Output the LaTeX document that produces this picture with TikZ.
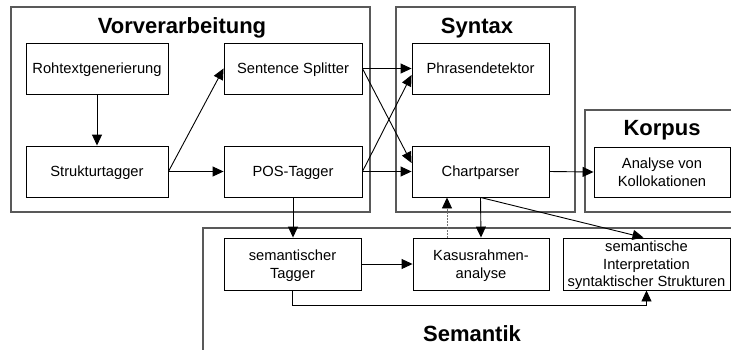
\documentclass[tikz,border=0pt]{standalone}
\usepackage{fontspec}
\setmainfont{Liberation Sans}
\usetikzlibrary{arrows.meta,calc}
\begin{document}
\begin{tikzpicture}[x=1pt,y=-1pt,
  box/.style={draw=black,line width=0.9pt,rectangle,inner sep=0pt,
    font=\fontsize{14.7}{17.5}\selectfont,align=center,text depth=0pt},
  one/.style={box,text height=10.5pt},
  two/.style={box,text height=28pt},
  three/.style={box,text height=45.5pt},
  frame/.style={draw=black!65,line width=1.3pt},
  title/.style={font=\fontsize{22}{26}\bfseries\selectfont,anchor=base,inner sep=0pt},
  arr/.style={draw=black,line width=0.9pt,-{Triangle[length=11pt,width=10pt]}},
  dotarr/.style={draw=black!55,line width=0.9pt,dash pattern=on 1.5pt off 1.5pt,
    -{Triangle[length=11pt,width=10pt,color=black]}}
]
\clip (0,0) rectangle (731,349);
\fill[white] (0,0) rectangle (731,349);

% frames
\draw[frame] (11,7) rectangle (370,212);
\draw[frame] (396,7) rectangle (575,212);
\draw[frame] (585,110) rectangle (760,212);
\draw[frame] (203,228) rectangle (760,380);

% titles
\node[title] (tvor) at (182,33) {Vorverarbeitung};
\node[title] (tsyn) at (477,33) {Syntax};
\node[title] (tkor) at (662,135) {Korpus};
\node[title] (tsem) at (472,341) {Semantik};

% boxes
\node[one,minimum width=142pt,minimum height=51pt] (roh) at (97,68.5) {Rohtextgenerierung};
\node[one,minimum width=142pt,minimum height=51pt] (struk) at (97,171.5) {Strukturtagger};
\node[one,minimum width=138pt,minimum height=51pt] (ss) at (293,68.5) {Sentence Splitter};
\node[one,minimum width=138pt,minimum height=51pt] (pos) at (293,171.5) {POS-Tagger};
\node[one,minimum width=137pt,minimum height=51pt] (pd) at (480.5,68.5) {Phrasendetektor};
\node[one,minimum width=137pt,minimum height=51pt] (cp) at (480.5,171.5) {Chartparser};
\node[two,minimum width=136pt,minimum height=50pt] (ana) at (662,172) {Analyse von\\Kollokationen};
\node[two,minimum width=137pt,minimum height=52pt] (semtag) at (292.5,264) {semantischer\\Tagger};
\node[two,minimum width=136pt,minimum height=52pt] (kasus) at (481,264) {Kasusrahmen-\\analyse};
\node[three,minimum width=167pt,minimum height=52pt] (semint) at (646.5,264) {semantische\\Interpretation\\syntaktischer Strukturen};

% connectors
\draw[arr] (roh.south) -- (struk.north);
\draw[arr] (struk.east) -- (ss.west);
\draw[arr] (struk.east) -- (pos.west);
\draw[arr] (ss.east) -- (pd.west);
\draw[arr] (ss.east) -- ([yshift=8.5pt]cp.west);
\draw[arr] (pos.east) -- ([yshift=-6.5pt]pd.west);
\draw[arr] (pos.east) -- (cp.west);
\draw[arr] (cp.east) -- (ana.west);
\draw[arr] (pos.south) -- (pos.south |- semtag.north);
\draw[arr] (cp.south) -- (kasus.north);
\draw[dotarr] ([xshift=-34pt]kasus.north) -- ([xshift=-34pt]kasus.north |- cp.south);
\draw[arr] (cp.south) -- ([xshift=-3pt]semint.north);
\draw[arr] (semtag.east) -- (kasus.west);
\draw[arr] (semtag.south) -- ++(0,15) -| (semint.south);
\end{tikzpicture}
\end{document}
